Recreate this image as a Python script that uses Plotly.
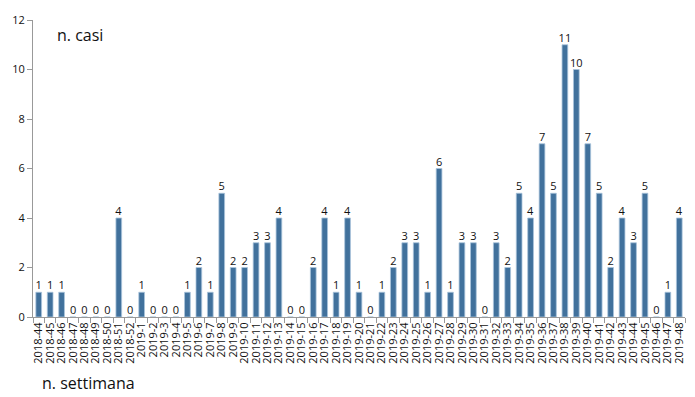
import plotly.graph_objects as go

weeks = ["2018-44", "2018-45", "2018-46", "2018-47", "2018-48", "2018-49", "2018-50", "2018-51", "2018-52"] + \
        [f"2019-{i}" for i in range(1, 49)]
cases = [1, 1, 1, 0, 0, 0, 0, 4, 0,
         1, 0, 0, 0, 1, 2, 1, 5, 2, 2, 3, 3, 4, 0, 0, 2, 4, 1, 4, 1, 0,
         1, 2, 3, 3, 1, 6, 1, 3, 3, 0, 3, 2, 5, 4, 7, 5, 11, 10, 7, 5,
         2, 4, 3, 5, 0, 1, 4]
y_ticks = [0, 2, 4, 6, 8, 10, 12]

W, H = 695, 397
L, R, T, B = 33, 10, 20, 80
pw, ph = W - L - R, H - T - B

fig = go.Figure()
fig.add_trace(go.Bar(
    x=weeks, y=cases,
    marker=dict(color="#41719c", line=dict(color="#a9c4dc", width=0.8)),
    width=0.5,
    text=[str(v) for v in cases], textposition="outside",
    constraintext="none",
    textfont=dict(size=11, color="#111", family="Open Sans"),
    cliponaxis=False,
))
fig.update_layout(
    width=W, height=H,
    margin=dict(l=L, r=R, t=T, b=B, autoexpand=False),
    plot_bgcolor="white", paper_bgcolor="white",
    showlegend=False,
    font=dict(family="Open Sans", color="#111"),
    xaxis=dict(type="category", range=[-0.5, len(weeks) - 0.5], automargin=False,
               tickmode="array", tickvals=weeks, ticktext=weeks,
               showline=True, linecolor="#999", linewidth=1,
               ticks="outside", tickson="boundaries", ticklen=5, tickcolor="#999",
               tickangle=-90, tickfont=dict(size=11), showgrid=False),
    yaxis=dict(range=[0, 12], tickvals=y_ticks, automargin=False,
               showline=True, linecolor="#999", linewidth=1,
               ticks="outside", ticklen=5, tickcolor="#999", tickfont=dict(size=11),
               showgrid=False, zeroline=False),
    annotations=[
        dict(text="n. casi", x=(55 - L) / pw, y=(H - B - 35) / ph, xref="paper", yref="paper",
             showarrow=False, font=dict(size=16), xanchor="left", yanchor="middle"),
        dict(text="n. settimana", x=(40 - L) / pw, y=(H - B - 383) / ph, xref="paper", yref="paper",
             showarrow=False, font=dict(size=16), xanchor="left", yanchor="middle"),
    ],
)
fig.write_html("out.html", config={"displayModeBar": False},
               post_script="document.body.style.margin='0';document.body.style.padding='0';")
